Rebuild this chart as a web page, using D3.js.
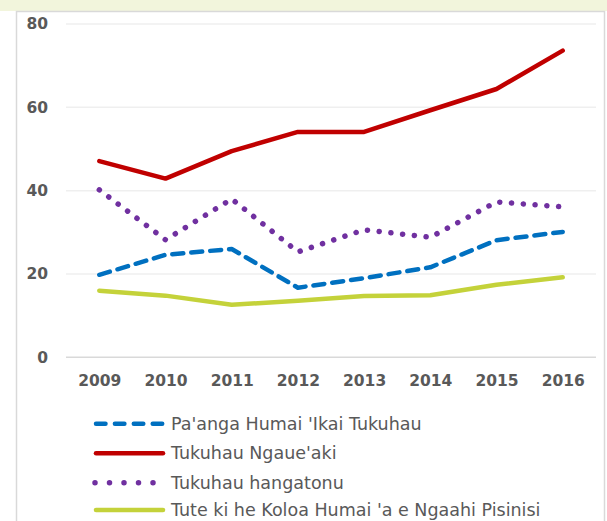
<!DOCTYPE html>
<html><head><meta charset="utf-8">
<script src="https://cdn.jsdelivr.net/npm/d3@7"></script>
<style>body{margin:0;background:#fff}svg{display:block}</style>
</head><body><svg id="c" width="607" height="521"></svg>
<script>
const years = ["2009","2010","2011","2012","2013","2014","2015","2016"];
const seriesNames = ["Pa'anga Humai 'Ikai Tukuhau","Tukuhau Ngaue'aki","Tukuhau hangatonu","Tute ki he Koloa Humai 'a e Ngaahi Pisinisi"];
const paanga = [19.8, 24.6, 26.0, 16.7, 19.0, 21.6, 28.1, 30.1];
const ngaueaki = [47.1, 42.9, 49.5, 54.1, 54.1, 59.3, 64.4, 73.6];
const hangatonu = [40.2, 28.2, 38.0, 25.3, 30.6, 28.8, 37.3, 36.1];
const tute = [16.0, 14.8, 12.6, 13.6, 14.7, 14.9, 17.4, 19.2];
const yTicks = [0, 20, 40, 60, 80];

const styles = [
  {color:"#0070c0", width:4.5, dash:"11,8"},
  {color:"#c00000", width:4.5, dash:null},
  {color:"#7030a0", width:5.5, dash:"0.1,11.7"},
  {color:"#c4d23a", width:4.5, dash:null}
];
const data = [paanga, ngaueaki, hangatonu, tute];

const svg = d3.select("#c");
svg.append("rect").attr("x",0).attr("y",0).attr("width",607).attr("height",11).attr("fill","#f2f5dc");
svg.append("rect").attr("x",16.5).attr("y",11.5).attr("width",588).attr("height",515).attr("fill","#fff").attr("stroke","#d9d9d9").attr("stroke-width",1.5);

const x = d3.scalePoint().domain(years).range([99.3, 562.7]);
const y = d3.scaleLinear().domain([0,80]).range([357.3, 24]);

const grid = svg.append("g");
grid.selectAll("line").data(yTicks).join("line")
  .attr("x1",66).attr("x2",596)
  .attr("y1",d=>y(d)).attr("y2",d=>y(d))
  .attr("stroke",d=>d===0?"#d9d9d9":"#efefef").attr("stroke-width",1.5);

const yAxis = svg.append("g").attr("transform","translate(48,0)")
  .call(d3.axisLeft(y).tickValues(yTicks).tickSize(0).tickPadding(0));
yAxis.select(".domain").remove();
yAxis.selectAll("text").attr("font-family","DejaVu Sans").attr("font-weight","bold")
  .attr("font-size",15.5).attr("fill","#595959");

const xAxis = svg.append("g").attr("transform","translate(0,357.3)")
  .call(d3.axisBottom(x).tickSize(0).tickPadding(18));
xAxis.select(".domain").remove();
xAxis.selectAll("text").attr("font-family","DejaVu Sans").attr("font-weight","bold")
  .attr("font-size",15.5).attr("fill","#595959");

const line = d3.line().x((d,i)=>x(years[i])).y(d=>y(d));
data.forEach((vals,k)=>{
  const s = styles[k];
  svg.append("path").datum(vals).attr("d",line)
    .attr("fill","none").attr("stroke",s.color).attr("stroke-width",s.width)
    .attr("stroke-linecap","round").attr("stroke-linejoin","round")
    .attr("stroke-dasharray",s.dash);
});

const legY = [423.7, 453.3, 482.7, 510];
const leg = svg.append("g");
seriesNames.forEach((name,k)=>{
  const s = styles[k];
  const g = leg.append("g").attr("transform",`translate(0,${legY[k]})`);
  if (k===2) {
    g.append("line").attr("x1",95).attr("x2",155).attr("y1",0).attr("y2",0)
      .attr("stroke",s.color).attr("stroke-width",5.5).attr("stroke-linecap","round")
      .attr("stroke-dasharray","0,14.5");
  } else {
    g.append("line").attr("x1",96).attr("x2",163).attr("y1",0).attr("y2",0)
      .attr("stroke",s.color).attr("stroke-width",4.5).attr("stroke-linecap","round")
      .attr("stroke-dasharray",k===0?"9.5,9.4":null);
  }
  g.append("text").attr("x",171).attr("y",0).attr("dy","0.35em")
    .attr("font-family","DejaVu Sans").attr("font-size",17.5)
    .attr("fill","#595959").text(name);
});
</script></body></html>
